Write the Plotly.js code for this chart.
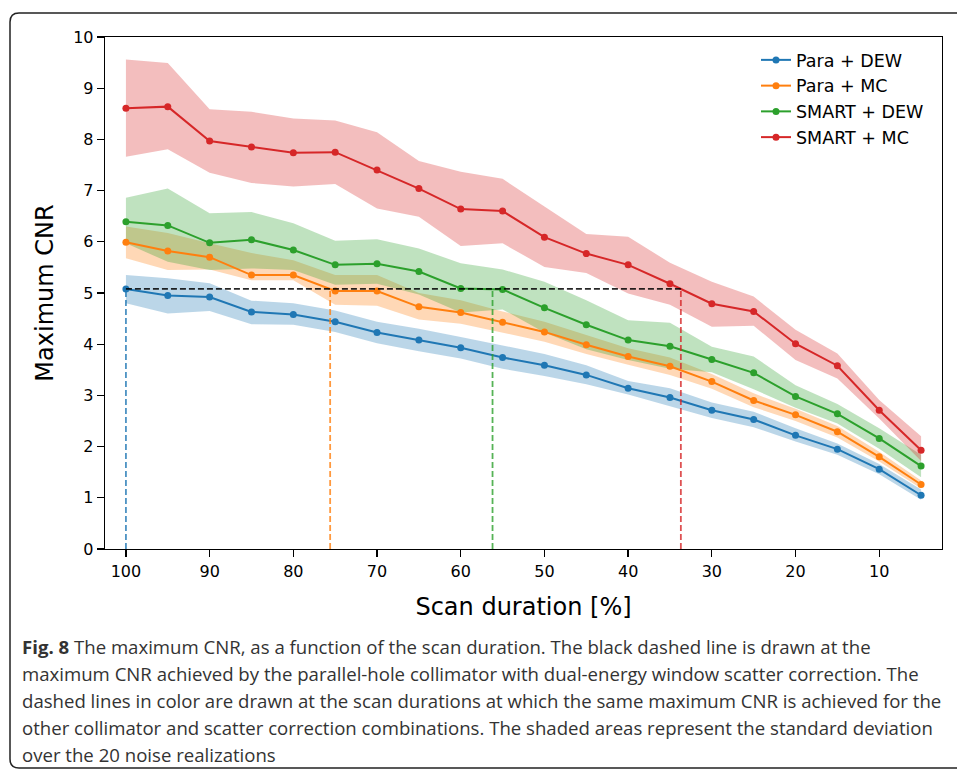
<!DOCTYPE html>
<html>
<head>
<meta charset="utf-8">
<script src="https://cdn.plot.ly/plotly-3.0.1.min.js"></script>
<style>html,body{margin:0;padding:0;background:#fff;}#chart{width:957px;height:770px;}</style>
</head>
<body>
<div id="chart"></div>
<script>
// ---- data ----
const scanDuration = [100,95,90,85,80,75,70,65,60,55,50,45,40,35,30,25,20,15,10,5];
const seriesNames = ["Para + DEW","Para + MC","SMART + DEW","SMART + MC"];

const paraDEW      = [5.08,4.95,4.92,4.63,4.58,4.44,4.23,4.08,3.93,3.74,3.59,3.40,3.14,2.96,2.71,2.53,2.22,1.95,1.56,1.05];
const paraDEWUpper = [5.35,5.29,5.19,4.85,4.80,4.66,4.44,4.30,4.14,3.98,3.81,3.59,3.28,3.14,2.86,2.68,2.36,2.06,1.66,1.16];
const paraDEWLower = [4.80,4.60,4.65,4.39,4.38,4.24,4.02,3.86,3.72,3.52,3.38,3.22,3.02,2.79,2.56,2.38,2.10,1.84,1.46,0.96];

const paraMC       = [5.99,5.82,5.70,5.35,5.35,5.04,5.04,4.73,4.62,4.43,4.24,3.99,3.76,3.57,3.27,2.90,2.62,2.29,1.80,1.26];
const paraMCUpper  = [6.30,6.17,5.97,5.78,5.64,5.35,5.35,5.00,4.86,4.64,4.44,4.18,3.92,3.74,3.42,3.04,2.74,2.40,1.90,1.34];
const paraMCLower  = [5.68,5.45,5.46,5.25,5.25,4.77,4.75,4.48,4.40,4.23,4.05,3.81,3.60,3.40,3.13,2.77,2.50,2.18,1.71,1.18];

const smartDEW      = [6.39,6.32,5.98,6.04,5.84,5.55,5.57,5.42,5.09,5.07,4.71,4.38,4.08,3.96,3.70,3.44,2.98,2.64,2.16,1.62];
const smartDEWUpper = [6.86,7.04,6.56,6.58,6.36,6.02,6.05,5.87,5.58,5.46,5.22,4.86,4.47,4.42,3.95,3.76,3.20,2.83,2.36,1.84];
const smartDEWLower = [5.97,5.61,5.45,5.48,5.45,5.16,5.18,4.97,4.62,4.68,4.23,3.90,3.69,3.52,3.45,3.12,2.76,2.45,1.96,1.40];

const smartMC      = [8.61,8.64,7.97,7.85,7.74,7.75,7.40,7.04,6.64,6.60,6.09,5.77,5.55,5.18,4.79,4.64,4.01,3.58,2.71,1.93];
const smartMCUpper = [9.56,9.49,8.59,8.54,8.41,8.37,8.14,7.58,7.37,7.23,6.69,6.15,6.10,5.59,5.22,4.93,4.28,3.82,2.91,2.20];
const smartMCLower = [7.66,7.81,7.35,7.15,7.08,7.13,6.65,6.49,5.92,5.97,5.51,5.39,4.99,4.77,4.34,4.36,3.69,3.33,2.55,1.72];

// reference CNR (Para + DEW at 100%) and scan durations where each combination reaches it
const referenceCNR = [5.08];
const matchDuration = [100, 75.6, 56.2, 33.7];

const xTickVals = [100,90,80,70,60,50,40,30,20,10];
const yTickVals = [0,1,2,3,4,5,6,7,8,9,10];

const captionLines = [
  "<b>Fig. 8</b> The maximum CNR, as a function of the scan duration. The black dashed line is drawn at the",
  "maximum CNR achieved by the parallel-hole collimator with dual-energy window scatter correction. The",
  "dashed lines in color are drawn at the scan durations at which the same maximum CNR is achieved for the",
  "other collimator and scatter correction combinations. The shaded areas represent the standard deviation",
  "over the 20 noise realizations"
];

// ---- styling ----
const colors = ["#1f77b4","#ff7f0e","#2ca02c","#d62728"];
const bandColors = ["rgba(31,119,180,0.3)","rgba(255,127,14,0.3)","rgba(44,160,44,0.3)","rgba(214,39,40,0.3)"];
const dashColors = ["rgba(31,119,180,0.8)","rgba(255,127,14,0.8)","rgba(44,160,44,0.8)","rgba(214,39,40,0.8)"];
const means = [paraDEW, paraMC, smartDEW, smartMC];
const uppers = [paraDEWUpper, paraMCUpper, smartDEWUpper, smartMCUpper];
const lowers = [paraDEWLower, paraMCLower, smartDEWLower, smartMCLower];

const FONT = "DejaVu Sans, sans-serif";
const traces = [];

for (let i = 0; i < 4; i++) {
  traces.push({
    x: scanDuration.concat(scanDuration.slice().reverse()),
    y: uppers[i].concat(lowers[i].slice().reverse()),
    type: "scatter", mode: "lines", fill: "toself",
    fillcolor: bandColors[i], line: {width: 0}, hoverinfo: "skip", showlegend: false
  });
}
for (let i = 0; i < 4; i++) {
  traces.push({
    x: scanDuration, y: means[i], name: seriesNames[i],
    type: "scatter", mode: "lines+markers",
    line: {color: colors[i], width: 2},
    marker: {color: colors[i], size: 7},
    legendgroup: "g" + i
  });
}
// colored vertical dashed lines
for (let i = 0; i < 4; i++) {
  traces.push({
    x: [matchDuration[i], matchDuration[i]], y: [0, referenceCNR[0]],
    type: "scatter", mode: "lines",
    line: {color: dashColors[i], width: 1.8, dash: "6px,3px"},
    showlegend: false, hoverinfo: "skip"
  });
}
// black horizontal dashed line
traces.push({
  x: [matchDuration[0], matchDuration[3]], y: [referenceCNR[0], referenceCNR[0]],
  type: "scatter", mode: "lines",
  line: {color: "rgba(0,0,0,0.85)", width: 1.8, dash: "6px,3px"},
  showlegend: false, hoverinfo: "skip"
});

// pixel -> paper helpers (plot area: x 105..942, y 37..549)
const L = 105, R = 942, T = 37, B = 549;
const px = v => (v - L) / (R - L);
const py = v => (B - v) / (B - T);

const annotations = captionLines.map((t, k) => ({
  text: t, xref: "paper", yref: "paper",
  x: px(20), y: py(646 + k * 27), xanchor: "left", yanchor: "middle",
  showarrow: false, align: "left",
  font: {family: "Open Sans, sans-serif", size: 18.6, color: "#333"}
}));

// rounded frame around the figure
const fx0 = 10, fy0 = 13, fx1 = 985, fy1 = 768, r = 9;
const framePath =
  `M ${px(fx0)},${py(fy0 + r)} Q ${px(fx0)},${py(fy0)} ${px(fx0 + r)},${py(fy0)} ` +
  `L ${px(fx1 - r)},${py(fy0)} Q ${px(fx1)},${py(fy0)} ${px(fx1)},${py(fy0 + r)} ` +
  `L ${px(fx1)},${py(fy1 - r)} Q ${px(fx1)},${py(fy1)} ${px(fx1 - r)},${py(fy1)} ` +
  `L ${px(fx0 + r)},${py(fy1)} Q ${px(fx0)},${py(fy1)} ${px(fx0)},${py(fy1 - r)} Z`;

const layout = {
  width: 957, height: 770,
  margin: {l: L, r: 957 - R, t: T, b: 770 - B, pad: 0},
  paper_bgcolor: "#fff", plot_bgcolor: "#fff",
  font: {family: FONT, color: "#000"},
  showlegend: true,
  legend: {
    x: px(756), y: py(42), xanchor: "left", yanchor: "top",
    font: {family: FONT, size: 17.5, color: "#000"},
    bgcolor: "rgba(255,255,255,0.8)", borderwidth: 0,
    traceorder: "grouped", tracegroupgap: 0
  },
  xaxis: {
    range: [102.5, 2.5], tickvals: xTickVals, ticktext: xTickVals.map(String),
    ticks: "outside", ticklen: 7, tickwidth: 1.3, tickcolor: "#000",
    showline: true, mirror: true, linecolor: "#000", linewidth: 1.3,
    showgrid: false, zeroline: false,
    tickfont: {family: FONT, size: 16, color: "#000"},
    title: {text: "Scan duration [%]", font: {family: FONT, size: 24, color: "#000"}, standoff: 18}
  },
  yaxis: {
    range: [0, 10], tickvals: yTickVals, ticktext: yTickVals.map(String),
    ticks: "outside", ticklen: 7, tickwidth: 1.3, tickcolor: "#000",
    showline: true, mirror: true, linecolor: "#000", linewidth: 1.3,
    showgrid: false, zeroline: false,
    tickfont: {family: FONT, size: 16, color: "#000"},
    title: {text: "Maximum CNR", font: {family: FONT, size: 24, color: "#000"}, standoff: 12}
  },
  annotations: annotations,
  shapes: [{type: "path", xref: "paper", yref: "paper", path: framePath,
            line: {color: "#222", width: 1.5}, fillcolor: "rgba(0,0,0,0)", layer: "below"}]
};

Plotly.newPlot("chart", traces, layout, {displayModeBar: false, staticPlot: true});
</script>
</body>
</html>
